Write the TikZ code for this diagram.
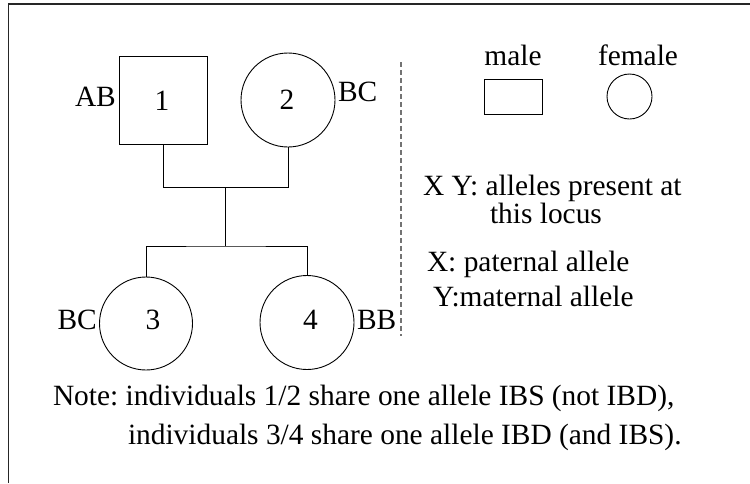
\documentclass[tikz,border=0pt]{standalone}
\usepackage{fontspec}
\setmainfont{Liberation Serif}
\frenchspacing
\begin{document}
\begin{tikzpicture}[x=1pt,y=-1pt,
  every node/.style={font=\fontsize{29.4}{34}\selectfont, inner sep=0pt, outer sep=0pt},
  male/.style={draw, line width=0.9pt, rectangle, minimum size=88pt},
  female/.style={draw, line width=0.9pt, circle, minimum size=#1},
  female/.default=94pt,
  txt/.style={anchor=base west},
  num/.style={anchor=base},
  link/.style={line width=0.9pt},
  divider/.style={draw=black!55, line width=1.3pt, dash pattern=on 5pt off 3pt},
  frame/.style={line width=1.6pt, draw=black!85}]
\useasboundingbox (0,0) rectangle (750,483);

% frame (top and left edges)
\draw[frame] (8.5,483) -- (8.5,4) -- (750,4);

% parents
\node[male] (p1) at (163.5,100.5) {};
\node[female] (p2) at (288,100) {};
\node[num] (n1) at (162,110.5) {1};
\node[num] (n2) at (287,109) {2};
\node[txt] (g1) at (75,106.5) {AB};
\node[txt] (g2) at (338,101.5) {BC};

% children
\node[female=93pt] (p3) at (146,323.5) {};
\node[female=94pt] (p4) at (307,322.5) {};
\node[num] (n3) at (153,329.3) {3};
\node[num] (n4) at (310.5,329.3) {4};
\node[txt] (g3) at (57.5,329.3) {BC};
\node[txt] (g4) at (357,329.3) {BB};

% mating and sibship lines
\coordinate (mate) at (225,187.5);
\coordinate (sibs) at (225,246);
\draw[link] (p1.south) |- (mate) -| (p2.south);
\draw[link] (mate) -- (sibs);
\draw[link] (p3.north) |- (sibs) -| (p4.north);

% divider
\draw[divider] (401,62) -- (401,336);

% legend
\node[num] (lm) at (513,65) {male};
\node[num] (lf) at (638,65) {female};
\node[draw, line width=0.9pt, minimum width=58pt, minimum height=35pt] (sm) at (513,96.5) {};
\node[draw, line width=0.9pt, circle, minimum size=45pt] (sf) at (629.5,96.5) {};

\node[txt] (k1) at (423,195) {X Y: alleles present at};
\node[txt] (k2) at (490,223.3) {this locus};
\node[txt] (k3) at (427,271.7) {X: paternal allele};
\node[txt] (k4) at (433,306.7) {Y:maternal allele};

% note
\node[txt] (t1) at (53,405) {Note: individuals 1/2 share one allele IBS (not IBD),};
\node[txt] (t2) at (128,444) {individuals 3/4 share one allele IBD (and IBS).};
\end{tikzpicture}
\end{document}
